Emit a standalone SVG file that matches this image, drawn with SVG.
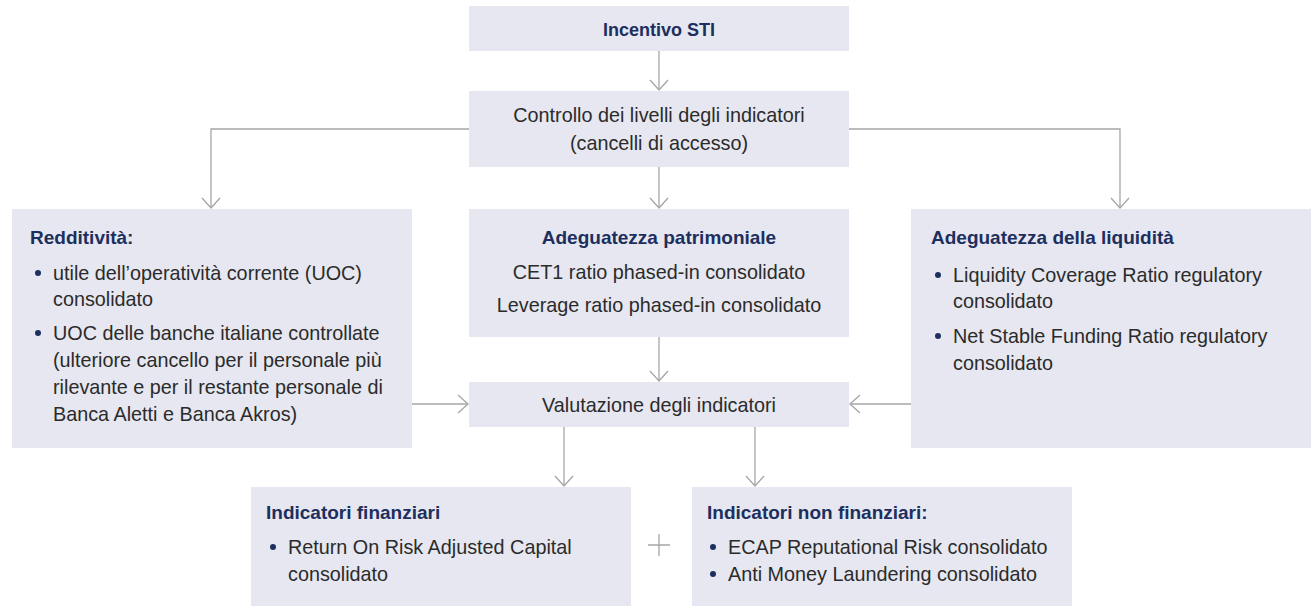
<svg xmlns="http://www.w3.org/2000/svg" width="1314" height="606" viewBox="0 0 1314 606">
<defs>
<marker id="arr" viewBox="0 0 12 20" refX="11" refY="10" markerWidth="12" markerHeight="20" markerUnits="userSpaceOnUse" orient="auto">
<path d="M1,1 L11,10 L1,19" fill="none" stroke="#a6a6a6" stroke-width="1.3"/>
</marker>
<style>
.box{fill:#e6e7f0}
.t{font-family:"Liberation Sans",Arial,sans-serif;font-size:19.8px;fill:#2b2b2b}
.h{font-family:"Liberation Sans",Arial,sans-serif;font-size:19px;font-weight:bold;fill:#1c2f5e}
.c{text-anchor:middle}
.b{fill:#1c2f5e}
.ln{fill:none;stroke:#a6a6a6;stroke-width:1.3}
</style>
</defs>
<rect width="1314" height="606" fill="#ffffff"/>
<g id="connectors">
<path class="ln" d="M659,51 V90" marker-end="url(#arr)"/>
<path class="ln" d="M469,129 H211 V208" marker-end="url(#arr)"/>
<path class="ln" d="M849,129 H1120 V208" marker-end="url(#arr)"/>
<path class="ln" d="M659,167 V208" marker-end="url(#arr)"/>
<path class="ln" d="M659,337 V381" marker-end="url(#arr)"/>
<path class="ln" d="M412,404 H468" marker-end="url(#arr)"/>
<path class="ln" d="M911,404 H850" marker-end="url(#arr)"/>
<path class="ln" d="M564,427 V486" marker-end="url(#arr)"/>
<path class="ln" d="M755,427 V486" marker-end="url(#arr)"/>
<path class="ln" d="M648,545 H670 M659,534 V556"/>
</g>
<g id="incentivo">
<rect class="box" x="469" y="6" width="380" height="45"/>
<text class="h c" x="659" y="36" style="font-size:18px">Incentivo STI</text>
</g>
<g id="controllo">
<rect class="box" x="469" y="91" width="380" height="76"/>
<text class="t c" x="659" y="122">Controllo dei livelli degli indicatori</text>
<text class="t c" x="659" y="150">(cancelli di accesso)</text>
</g>
<g id="redditivita">
<rect class="box" x="12" y="209" width="400" height="239"/>
<text class="h" x="30" y="244">Redditività:</text>
<circle class="b" cx="38" cy="273" r="3"/>
<text class="t" x="53" y="280">utile dell’operatività corrente (UOC)</text>
<text class="t" x="53" y="306">consolidato</text>
<circle class="b" cx="38" cy="333" r="3"/>
<text class="t" x="53" y="340">UOC delle banche italiane controllate</text>
<text class="t" x="53" y="367">(ulteriore cancello per il personale più</text>
<text class="t" x="53" y="394">rilevante e per il restante personale di</text>
<text class="t" x="53" y="421">Banca Aletti e Banca Akros)</text>
</g>
<g id="patrimoniale">
<rect class="box" x="469" y="209" width="380" height="128"/>
<text class="h c" x="659" y="244">Adeguatezza patrimoniale</text>
<text class="t c" x="659" y="279">CET1 ratio phased-in consolidato</text>
<text class="t c" x="659" y="312">Leverage ratio phased-in consolidato</text>
</g>
<g id="liquidita">
<rect class="box" x="911" y="209" width="400" height="239"/>
<text class="h" x="931" y="244">Adeguatezza della liquidità</text>
<circle class="b" cx="938" cy="275" r="3"/>
<text class="t" x="953" y="282">Liquidity Coverage Ratio regulatory</text>
<text class="t" x="953" y="308">consolidato</text>
<circle class="b" cx="938" cy="336" r="3"/>
<text class="t" x="953" y="343">Net Stable Funding Ratio regulatory</text>
<text class="t" x="953" y="370">consolidato</text>
</g>
<g id="valutazione">
<rect class="box" x="469" y="382" width="380" height="45"/>
<text class="t c" x="659" y="412">Valutazione degli indicatori</text>
</g>
<g id="finanziari">
<rect class="box" x="251" y="487" width="380" height="119"/>
<text class="h" x="266" y="519">Indicatori finanziari</text>
<circle class="b" cx="273" cy="547" r="3"/>
<text class="t" x="288" y="554">Return On Risk Adjusted Capital</text>
<text class="t" x="288" y="581">consolidato</text>
</g>
<g id="nonfinanziari">
<rect class="box" x="692" y="487" width="380" height="119"/>
<text class="h" x="707" y="519">Indicatori non finanziari:</text>
<circle class="b" cx="713" cy="547" r="3"/>
<text class="t" x="728" y="554">ECAP Reputational Risk consolidato</text>
<circle class="b" cx="713" cy="574" r="3"/>
<text class="t" x="728" y="581">Anti Money Laundering consolidato</text>
</g>
</svg>
